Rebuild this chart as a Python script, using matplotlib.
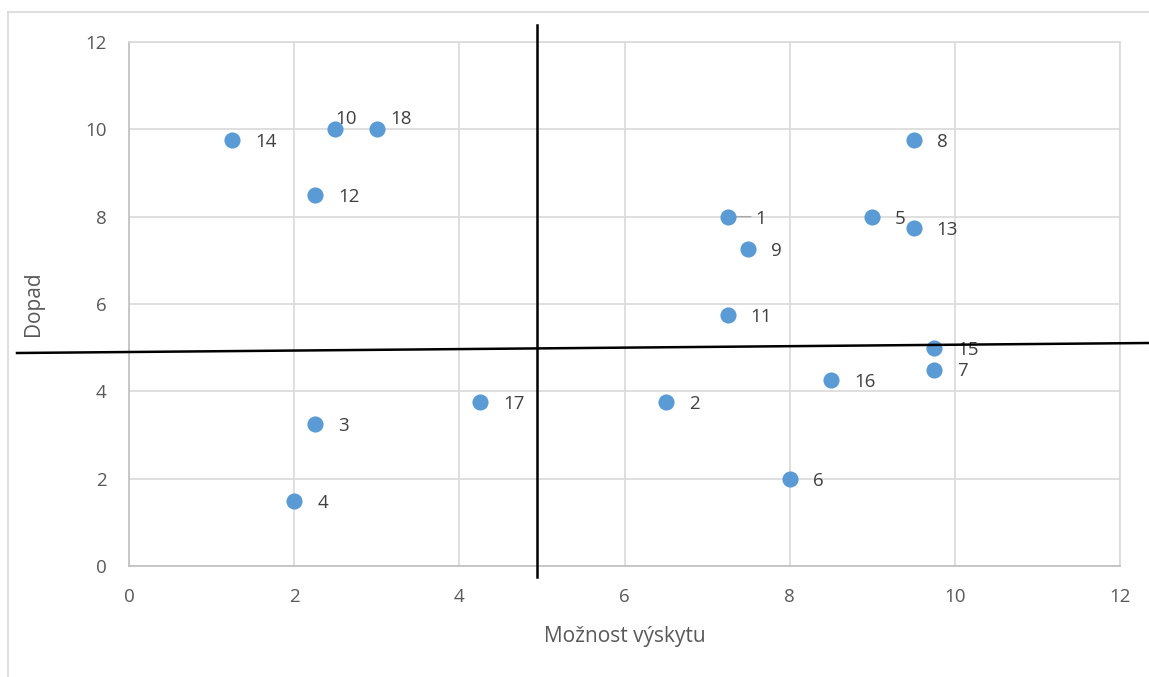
import matplotlib
matplotlib.use('Agg')
import matplotlib.pyplot as plt
from matplotlib.lines import Line2D

plt.rcParams['font.family'] = ['Open Sans', 'DejaVu Sans']

# risk id, likelihood (x), impact (y)
ids = [1, 2, 3, 4, 5, 6, 7, 8, 9, 10, 11, 12, 13, 14, 15, 16, 17, 18]
moznost = [7.25, 6.5, 2.25, 2.0, 9.0, 8.0, 9.75, 9.5, 7.5, 2.5, 7.25, 2.25, 9.5, 1.25, 9.75, 8.5, 4.25, 3.0]
dopad = [8.0, 3.75, 3.25, 1.5, 8.0, 2.0, 4.5, 9.75, 7.25, 10.0, 5.75, 8.5, 7.75, 9.75, 5.0, 4.25, 3.75, 10.0]

# label offsets in pixels (most are Excel's default "right" position)
offsets = {10: (0, 10), 18: (14, 10), 1: (28, -2)}

grid_c = '#d9d9d9'
text_c = '#595959'
pt_c = '#5b9bd5'

fig = plt.figure(figsize=(11.49, 6.77), dpi=100)
ax = fig.add_axes([129/1149, 1 - 566/677, (1120-129)/1149, (566-42)/677])

ax.scatter(moznost, dopad, s=135, color=pt_c, zorder=3, linewidths=0)
for i, x, y in zip(ids, moznost, dopad):
    dx, dy = offsets.get(i, (23, -2))
    ax.annotate(str(i), (x, y), xytext=(dx, dy), textcoords='offset pixels',
                ha='left', va='center', fontsize=13.5, color='#404040', zorder=4)
# leader line for label 1
ax.annotate('', (7.25, 8.0), xytext=(26, 0), textcoords='offset pixels',
            arrowprops=dict(arrowstyle='-', color='#a6a6a6', lw=1), zorder=2)

ax.set_xlim(0, 12)
ax.set_ylim(0, 12)
ax.set_xticks(range(0, 13, 2))
ax.set_yticks(range(0, 13, 2))
ax.grid(True, color=grid_c, lw=1.2)
ax.set_axisbelow(True)
for s in ['top', 'right']:
    ax.spines[s].set_color(grid_c)
    ax.spines[s].set_linewidth(1.2)
for s in ['left', 'bottom']:
    ax.spines[s].set_color('#bfbfbf')
    ax.spines[s].set_linewidth(1.2)
ax.tick_params(length=0, labelsize=13.5, labelcolor=text_c)
ax.tick_params(axis='x', pad=16)
ax.tick_params(axis='y', pad=16)
ax.set_xlabel('Možnost výskytu', fontsize=15, color=text_c, labelpad=14)
ax.set_ylabel('Dopad', fontsize=15, color=text_c, labelpad=30)

# chart frame
fig.add_artist(Line2D([8/1149, 8/1149], [0, 1 - 12/677], color=grid_c, lw=1.2))
fig.add_artist(Line2D([8/1149, 1], [1 - 12/677, 1 - 12/677], color=grid_c, lw=1.2))

# quadrant lines drawn on top of the chart
fig.add_artist(Line2D([537/1149, 537/1149], [1 - 25/677, 1 - 577/677], color='black', lw=1.8))
fig.add_artist(Line2D([17/1149, 1], [1 - 353/677, 1 - 343/677], color='black', lw=1.8))

fig.savefig('out.png', dpi=100)
